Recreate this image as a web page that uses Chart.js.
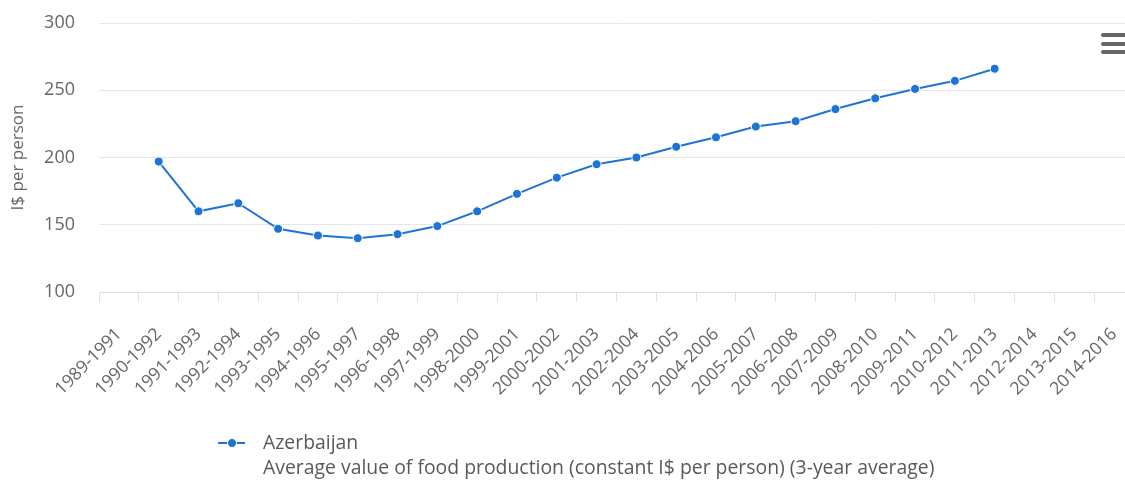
<!DOCTYPE html>
<html>
<head>
<meta charset="utf-8">
<script src="https://cdn.jsdelivr.net/npm/chart.js@4"></script>
<style>
  html, body { margin: 0; padding: 0; background: #fff; overflow: hidden; }
  #wrap { position: absolute; left: 0; top: 0; width: 1140px; height: 481px; }
  #menu { position: absolute; left: 1101px; top: 33px; width: 26px; }
  #menu div { height: 4px; background: #666; border-radius: 2px; margin-bottom: 4.5px; }
</style>
</head>
<body>
<div id="wrap"><canvas id="graficoProducao"></canvas></div>
<div id="menu"><div></div><div></div><div></div></div>
<script>
const periodos = [
  "1989-1991", "1990-1992", "1991-1993", "1992-1994", "1993-1995", "1994-1996",
  "1995-1997", "1996-1998", "1997-1999", "1998-2000", "1999-2001", "2000-2002",
  "2001-2003", "2002-2004", "2003-2005", "2004-2006", "2005-2007", "2006-2008",
  "2007-2009", "2008-2010", "2009-2011", "2010-2012", "2011-2013", "2012-2014",
  "2013-2015", "2014-2016"
];
const azerbaijan = [
  null, 197, 160, 166, 147, 142, 140, 143, 149, 160, 173, 185,
  195, 200, 208, 215, 223, 227, 236, 244, 251, 257, 266, null, null, null
];
const yTicks = [100, 150, 200, 250, 300];
const descricao = "Average value of food production (constant I$ per person) (3-year average)";

const azul = "#1e73d6";
const cinza = "#666666";
const fonte = "'Open Sans'";

// legenda embaixo: -•- Azerbaijan / descrição na linha de baixo
const legendaInferior = {
  id: "legendaInferior",
  afterDraw(chart) {
    const ctx = chart.ctx;
    const ds = chart.data.datasets[0];
    const xm = 218, xt = 263, y1 = 443, y2 = 468;
    ctx.save();
    ctx.strokeStyle = azul;
    ctx.lineWidth = 2;
    ctx.beginPath();
    ctx.moveTo(xm, y1);
    ctx.lineTo(xm + 27, y1);
    ctx.stroke();
    ctx.fillStyle = azul;
    ctx.strokeStyle = "#fff";
    ctx.lineWidth = 1;
    ctx.beginPath();
    ctx.arc(xm + 14, y1, 4.5, 0, Math.PI * 2);
    ctx.fill();
    ctx.stroke();
    ctx.fillStyle = "#595959";
    ctx.font = "19.4px " + fonte;
    ctx.textBaseline = "middle";
    ctx.textAlign = "left";
    ctx.fillText(ds.label, xt, y1);
    ctx.fillText(descricao, xt, y2);
    ctx.restore();
  },
};

const grafico = document.getElementById("graficoProducao");

new Chart(grafico, {
  type: "line",
  data: {
    labels: periodos,
    datasets: [
      {
        label: "Azerbaijan",
        data: azerbaijan,
        borderWidth: 2,
        borderColor: azul,
        backgroundColor: azul,
        pointRadius: 4.5,
        pointBorderColor: "#fff",
        pointBorderWidth: 1,
        pointBackgroundColor: azul,
        tension: 0,
        spanGaps: false,
      },
    ],
  },
  plugins: [legendaInferior],
  options: {
    responsive: true,
    maintainAspectRatio: false,
    animation: false,
    layout: { padding: { top: 23, left: 0, right: 6, bottom: 73 } },
    plugins: {
      tooltip: { enabled: false },
      legend: { display: false },
    },
    scales: {
      x: {
        offset: true,
        afterFit: (scale) => { scale.height = 116; scale.paddingRight = 0; },
        grid: {
          offset: true,
          drawOnChartArea: false,
          drawTicks: true,
          tickLength: 10,
          color: "#e0e0e0",
        },
        border: { color: "#e0e0e0", width: 1 },
        ticks: {
          autoSkip: false,
          maxRotation: 45,
          minRotation: 45,
          padding: 22,
          color: cinza,
          font: { family: fonte, size: 17.5 },
        },
      },
      y: {
        min: 100,
        max: 300,
        afterFit: (scale) => {
          scale.width = 99;
          scale.paddingTop = 0;
          scale.paddingBottom = 0;
        },
        afterBuildTicks: (scale) => { scale.ticks = yTicks.map((v) => ({ value: v })); },
        grid: { color: "#e6e6e6", drawTicks: false },
        border: { display: false },
        ticks: {
          padding: 24,
          color: cinza,
          font: { family: fonte, size: 18 },
        },
        title: {
          display: true,
          text: "I$ per person",
          color: cinza,
          padding: { top: 8, bottom: 0 },
          font: { family: fonte, size: 17 },
        },
      },
    },
  },
});
</script>
</body>
</html>
